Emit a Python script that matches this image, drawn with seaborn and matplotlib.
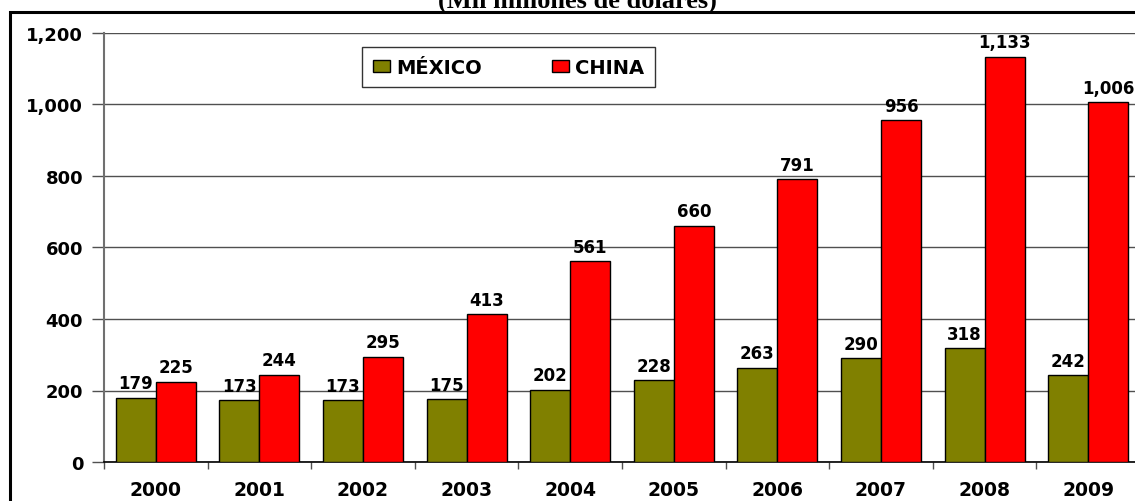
import matplotlib
matplotlib.use("Agg")
import matplotlib.pyplot as plt
import seaborn as sns
import pandas as pd
import numpy as np
from matplotlib.patches import Rectangle
from matplotlib.ticker import FuncFormatter, FixedLocator

years = ["2000", "2001", "2002", "2003", "2004", "2005", "2006", "2007", "2008", "2009"]
mexico = [179, 173, 173, 175, 202, 228, 263, 290, 318, 242]
china = [225, 244, 295, 413, 561, 660, 791, 956, 1133, 1006]
series = ["MÉXICO", "CHINA"]
colors = ["#808000", "#FF0000"]
title = "(Mil millones de dólares)"

df = pd.DataFrame({
    "year": years * 2,
    "value": mexico + china,
    "pais": [series[0]] * len(years) + [series[1]] * len(years),
})

sns.set_theme(style="white")
plt.rcParams["font.family"] = ["DejaVu Sans"]
plt.rcParams["text.color"] = "black"
plt.rcParams["xtick.color"] = "black"
plt.rcParams["ytick.color"] = "black"
plt.rcParams["xtick.labelcolor"] = "black"
plt.rcParams["ytick.labelcolor"] = "black"

W, H = 1135, 502
fig = plt.figure(figsize=(W / 100, H / 100), dpi=100)
ax = fig.add_axes([104 / W, 39 / H, 1036 / W, 429 / H])

sns.barplot(data=df, x="year", y="value", hue="pais", palette=colors,
            width=0.772, edgecolor="black", linewidth=1.0, ax=ax,
            saturation=1, legend=True, zorder=3)

ax.set_xlim(-0.5, 9.5)
ax.set_ylim(0, 1200)
ax.set_yticks(np.arange(0, 1201, 200))
ax.yaxis.set_major_formatter(FuncFormatter(lambda v, p: f"{int(v):,}"))
ax.grid(axis="y", color="#505050", linewidth=1.0, zorder=0)
ax.set_axisbelow(True)
ax.set_xlabel("")
ax.set_ylabel("")

for s in ["top", "right"]:
    ax.spines[s].set_visible(False)
ax.spines["left"].set_color("#707070")
ax.spines["left"].set_linewidth(1.5)
ax.spines["bottom"].set_color("black")
ax.spines["bottom"].set_linewidth(1.2)

ax.tick_params(axis="y", which="major", length=9, width=1, color="#505050",
               labelcolor="black", direction="out", left=True, labelsize=13, pad=6)
ax.tick_params(axis="x", which="major", length=0, labelsize=13.5, pad=13,
               labelcolor="black")
ax.xaxis.set_minor_locator(FixedLocator(np.arange(-0.5, 9.6, 1.0)))
ax.tick_params(axis="x", which="minor", length=5, width=1, color="#505050",
               direction="out", bottom=True)
for lbl in ax.get_xticklabels() + ax.get_yticklabels():
    lbl.set_fontweight("bold")

for cont in ax.containers:
    ax.bar_label(cont, labels=[f"{int(v):,}" for v in cont.datavalues],
                 padding=4, fontsize=12, fontweight="bold", color="black")

leg = ax.legend(loc="upper left", bbox_to_anchor=((362 - 104) / 1036, 1 - (48 - 34) / 429),
                ncol=2, frameon=True, fancybox=False, edgecolor="black",
                handlelength=0.9, handleheight=0.55, columnspacing=3.6,
                borderpad=0.55, handletextpad=0.3, borderaxespad=0,
                prop={"weight": "bold", "size": 14})
leg.get_frame().set_linewidth(1.0)
for t in leg.get_texts():
    t.set_color("black")
for h in leg.legend_handles:
    h.set_edgecolor("black")
    h.set_linewidth(1.0)

# outer frame
fig.patches.append(Rectangle((10 / W, -0.2), 1.5, 1 - 13 / H + 0.2,
                             transform=fig.transFigure, fill=False,
                             edgecolor="black", linewidth=2.2))
fig.text(577 / W, 1 - 8 / H, title, ha="center", va="baseline", color="black",
         fontsize=19, fontweight="bold", family=["Liberation Serif", "DejaVu Serif"])

fig.savefig("out.png", dpi=100)
